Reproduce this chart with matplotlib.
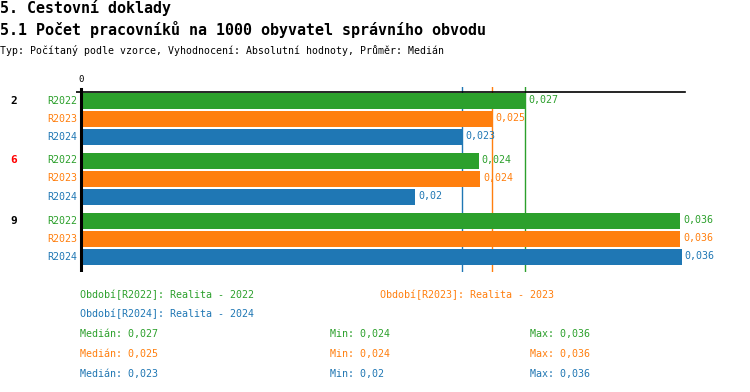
import numpy as np
import matplotlib
matplotlib.use("Agg")
import matplotlib.pyplot as plt

# ---- data ----
groups = ["2", "6", "9"]
group_colors = ["black", "red", "black"]
series = ["R2022", "R2023", "R2024"]
series_colors = ["#2ca02c", "#ff7f0e", "#1f77b4"]
periods = ["Realita - 2022", "Realita - 2023", "Realita - 2024"]
# values[series][group]
v2022 = [0.0267, 0.0239, 0.0360]
v2023 = [0.0247, 0.0240, 0.0360]
v2024 = [0.0229, 0.0201, 0.0361]
values = [v2022, v2023, v2024]

def fmt(v):
    s = f"{v:.3f}".rstrip("0").rstrip(".")
    return s.replace(".", ",")

W, H = 750, 392
fig = plt.figure(figsize=(W/100, H/100), dpi=100)
plt.rcParams['font.family'] = ['DejaVu Sans Mono']

def fx(x): return x / W
def fy(y): return 1 - y / H

# ---- titles ----
fig.text(fx(0), fy(8), "5. Cestovní doklady", fontsize=10.8, fontweight="bold", va="center")
fig.text(fx(0), fy(30), "5.1 Počet pracovníků na 1000 obyvatel správního obvodu",
         fontsize=10.8, fontweight="bold", va="center")
fig.text(fx(0), fy(50), "Typ: Počítaný podle vzorce, Vyhodnocení: Absolutní hodnoty, Průměr: Medián",
         fontsize=7.1, va="center")

# ---- bars ----
left_px, right_px, top_px, bot_px = 76, 686, 87, 272
ax = fig.add_axes([fx(left_px), fy(bot_px), (right_px-left_px)/W, (bot_px-top_px)/H])
scale = 16639.0  # px per unit
ax.set_xlim(-5/scale, (right_px-81)/scale)
ax.set_ylim(bot_px, top_px)
for s in ax.spines.values(): s.set_visible(False)
ax.set_xticks([]); ax.set_yticks([])

for j, (name, col) in enumerate(zip(series, series_colors)):
    for g in range(len(groups)):
        yc = 100.5 + g*60 + j*18
        v = values[j][g]
        ax.barh(yc, v, height=16, color=col, left=0, zorder=2)
        ax.text(v + 3/scale, yc, fmt(v), color=col, fontsize=7.2, va="center", ha="left", zorder=5)
        fig.text(fx(77), fy(yc), name, color=col, fontsize=7.2, va="center", ha="right")

for g, (lab, c) in enumerate(zip(groups, group_colors)):
    fig.text(fx(10), fy(100.5 + g*60), lab, color=c, fontsize=8, fontweight="bold", va="center")

# median lines (behind bars)
for j, col in enumerate(series_colors):
    ax.axvline(np.median(values[j]), color=col, lw=1, zorder=1)

ax.axhline(92, color="black", lw=1.2, xmax=(685-left_px)/(right_px-left_px), zorder=4)
ax.axvline(0, color="black", lw=2.2, ymax=(bot_px-top_px-2)/(bot_px-top_px), zorder=4)
fig.text(fx(81), fy(80), "0", fontsize=6.5, ha="center", va="center")

# ---- legend ----
fig.text(fx(80), fy(295), f"Období[{series[0]}]: {periods[0]}", color=series_colors[0], fontsize=7.2, va="center")
fig.text(fx(380), fy(295), f"Období[{series[1]}]: {periods[1]}", color=series_colors[1], fontsize=7.2, va="center")
fig.text(fx(80), fy(314), f"Období[{series[2]}]: {periods[2]}", color=series_colors[2], fontsize=7.2, va="center")

for j, col in enumerate(series_colors):
    y = 334 + j*20
    vals = values[j]
    fig.text(fx(80), fy(y), f"Medián: {fmt(np.median(vals))}", color=col, fontsize=7.2, va="center")
    fig.text(fx(330), fy(y), f"Min: {fmt(min(vals))}", color=col, fontsize=7.2, va="center")
    fig.text(fx(530), fy(y), f"Max: {fmt(max(vals))}", color=col, fontsize=7.2, va="center")

fig.savefig("out.png", dpi=100)
